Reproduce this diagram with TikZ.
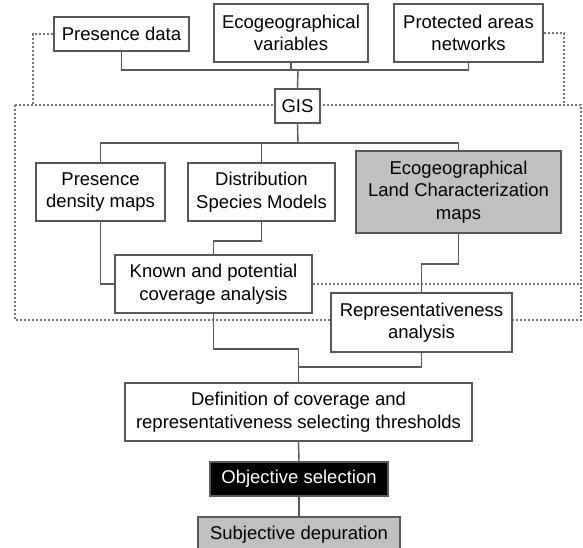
\documentclass[tikz,border=0pt]{standalone}
\usepackage{fontspec}
\setmainfont{Liberation Sans}
\usepackage{tikz}
\usetikzlibrary{calc}
\definecolor{boxline}{RGB}{88,88,88}
\definecolor{dotgray}{RGB}{120,120,120}
\definecolor{shade}{RGB}{192,192,192}

\begin{document}
\begin{tikzpicture}[
    x=1pt, y=-1pt,
    box/.style={draw=boxline,fill=white,line width=1.6pt,align=center,inner sep=0pt,font=\fontsize{18.5}{22.5}\selectfont},
    wire/.style={draw=boxline,line width=1.4pt},
    dotbox/.style={draw=dotgray,line width=1.5pt,dash pattern=on 2pt off 2pt}
]
\useasboundingbox (0,0) rectangle (583,548);
\coordinate (ul) at (33,105);
\coordinate (ur) at (564,105);
\coordinate (lo1) at (15,105);
\coordinate (lo2) at (581,320);
\draw[dotbox] (lo1) rectangle (lo2);
\node[box,minimum width=135pt,minimum height=34pt] (pres) at (121.5,34) {Presence data};
\node[box,minimum width=154pt,minimum height=58pt] (ecovar) at (291,33) {Ecogeographical\\variables};
\node[box,minimum width=149pt,minimum height=58pt] (prot) at (468.5,33) {Protected areas\\networks};
\node[box,minimum width=45pt,minimum height=34pt] (gis) at (297.5,106) {GIS};
\node[box,minimum width=129pt,minimum height=58pt] (dens) at (100.5,192) {Presence\\density maps};
\node[box,minimum width=147pt,minimum height=58pt] (dsm) at (261.5,192) {Distribution\\Species Models};
\node[box,fill=shade,minimum width=205pt,minimum height=82pt] (elcm) at (458.5,192) {Ecogeographical\\Land Characterization\\maps};
\node[box,minimum width=197pt,minimum height=58pt] (cov) at (213.5,284) {Known and potential\\coverage analysis};
\node[box,minimum width=181pt,minimum height=59pt] (repr) at (421.5,322.5) {Representativeness\\analysis};
\node[box,minimum width=347pt,minimum height=58pt] (thr) at (298.5,412) {Definition of coverage and\\representativeness selecting thresholds};
\node[box,fill=black,text=white,minimum width=178pt,minimum height=34pt] (obj) at (299,479) {Objective selection};
\node[box,fill=shade,minimum width=202pt,minimum height=35pt] (subj) at (299,534.5) {Subjective depuration};
\coordinate (topbus) at (298,70);
\coordinate (gisbus) at (298,143);
\coordinate (join) at (298.5,367);
\draw[dotbox] (pres.west) -| (ul);
\draw[dotbox] (prot.east) -| (ur);
\draw[dotbox] (cov.east) -- (cov.east -| lo2);
\draw[wire] (pres.south) |- (topbus) -| (prot.south);
\draw[wire] (ecovar.south) -- (ecovar.south |- topbus);
\draw[wire] (topbus) -- (gis.north);
\draw[wire] (gis.south) -- (gisbus);
\draw[wire] (dens.north) |- (gisbus) -| (elcm.north);
\draw[wire] (dsm.north) -- (dsm.north |- gisbus);
\draw[wire] (dens.south) |- (cov.west);
\draw[wire] (dsm.south) -- ++(0,19) -| (cov.north);
\draw[wire] (elcm.south) -- ++(0,30) -| (repr.north);
\draw[wire] (cov.south) -- ++(0,35) -| (thr.north);
\draw[wire] (repr.south) |- (join);
\draw[wire] (thr.south) -- (obj.north);
\draw[wire] (obj.south) -- (subj.north);
\end{tikzpicture}
\end{document}
